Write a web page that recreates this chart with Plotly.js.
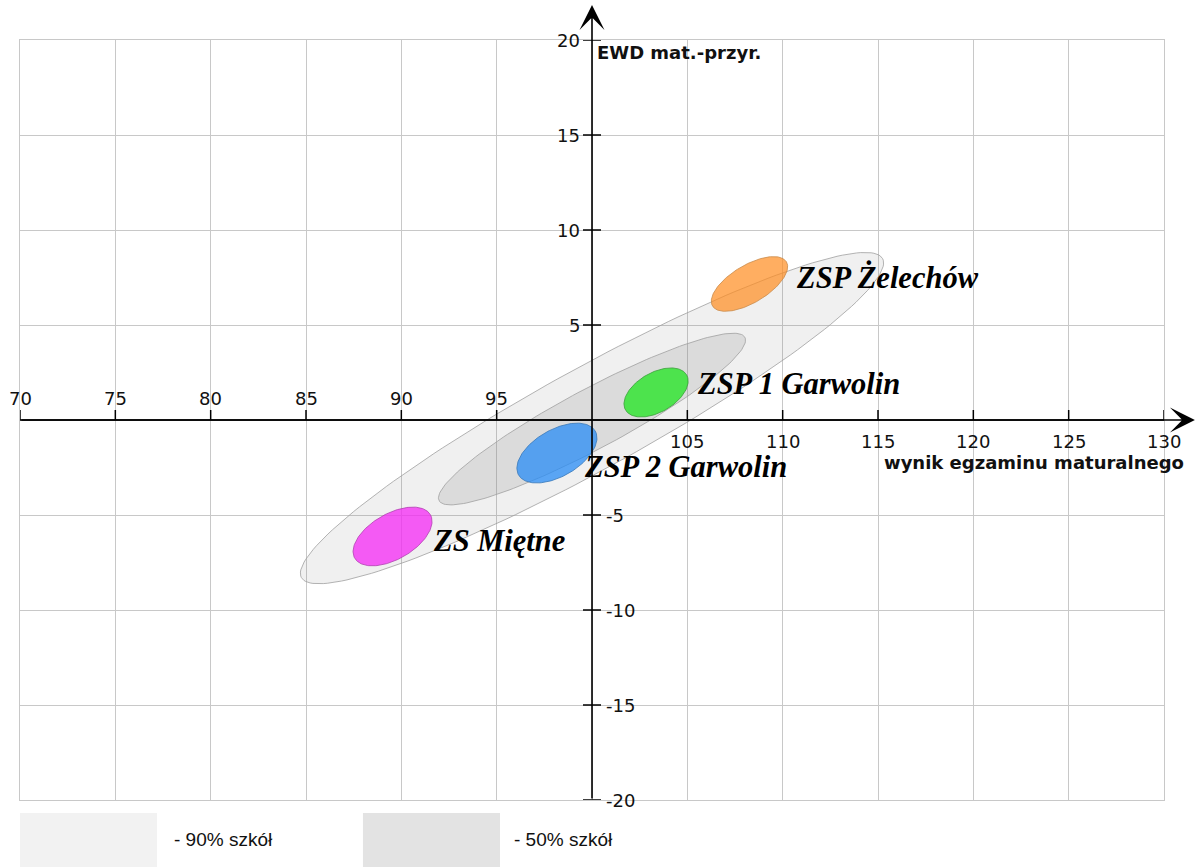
<!DOCTYPE html>
<html>
<head>
<meta charset="utf-8">
<script src="https://cdn.plot.ly/plotly-3.0.1.min.js"></script>
<style>html,body{margin:0;padding:0;background:#fff;}#chart{width:1202px;height:867px;}</style>
</head>
<body>
<div id="chart"></div>
<script>
// ---- data ----
const xTicks = [70, 75, 80, 85, 90, 95, 100, 105, 110, 115, 120, 125, 130];
const yTicks = [-20, -15, -10, -5, 0, 5, 10, 15, 20];
const xTitle = 'wynik egzaminu maturalnego';
const yTitle = 'EWD mat.-przyr.';

const schools = ['ZSP Żelechów', 'ZSP 1 Garwolin', 'ZSP 2 Garwolin', 'ZS Miętne'];
const schoolX = [108.26, 103.36, 98.16, 89.54];
const schoolY = [7.16, 1.45, -1.74, -6.13];
const schoolA = [2.26, 1.85, 2.32, 2.29];     // semi-major
const schoolB = [0.99, 1.04, 1.23, 1.20];     // semi-minor
const schoolAngle = [31, 30, 30, 30];         // degrees

const bands = ['90% szkół', '50% szkół'];
const bandX = [100, 100];
const bandY = [0.1, 0.05];
const bandA = [17.4, 9.1];
const bandB = [2.68, 1.57];
const bandAngle = [28.85, 28.2];

// ---- styles ----
const schoolFill = ['rgba(255,140,30,0.7)', 'rgba(30,230,30,0.75)', 'rgba(40,140,245,0.75)', 'rgba(245,40,245,0.75)'];
const schoolLine = ['#c98a4a', '#3aa03a', '#3a78b8', '#b040b0'];
const labelShift = [[45, 6], [39, 8.5], [25, -14], [38, -4.5]];
const bandFill = ['rgba(128,128,128,0.12)', 'rgba(128,128,128,0.18)'];
const legendColor = ['#f2f2f2', '#e3e3e3'];

function ellipse(cx, cy, a, b, angDeg) {
  const th = angDeg * Math.PI / 180, xs = [], ys = [];
  const n = 180;
  for (let i = 0; i <= n; i++) {
    const t = 2 * Math.PI * i / n;
    const u = a * Math.cos(t), v = b * Math.sin(t);
    xs.push(cx + u * Math.cos(th) - v * Math.sin(th));
    ys.push(cy + u * Math.sin(th) + v * Math.cos(th));
  }
  return {x: xs, y: ys};
}

const traces = [];
bands.forEach((name, i) => {
  const e = ellipse(bandX[i], bandY[i], bandA[i], bandB[i], bandAngle[i]);
  traces.push({x: e.x, y: e.y, mode: 'lines', fill: 'toself', fillcolor: bandFill[i],
    line: {color: '#a0a0a0', width: 0.8}, name: name, hoverinfo: 'skip'});
});
schools.forEach((name, i) => {
  const e = ellipse(schoolX[i], schoolY[i], schoolA[i], schoolB[i], schoolAngle[i]);
  traces.push({x: e.x, y: e.y, mode: 'lines', fill: 'toself', fillcolor: schoolFill[i],
    line: {color: schoolLine[i], width: 0.8}, name: name, hoverinfo: 'skip'});
});

const annotations = [];
const shapes = [];
const tickFont = {family: 'DejaVu Sans', size: 18, color: '#111'};

xTicks.forEach(v => {
  if (v !== 100) {
    shapes.push({type: 'line', xref: 'x', yref: 'y', x0: v, x1: v, ysizemode: 'pixel', yanchor: 0, y0: 0, y1: 10,
      line: {color: '#000', width: 1.5}, layer: 'above'});
    annotations.push({x: v, y: 0, xref: 'x', yref: 'y', text: String(v), showarrow: false, font: tickFont,
      xanchor: 'center', yanchor: v < 100 ? 'bottom' : 'top', yshift: v < 100 ? 9 : -9});
  }
});
yTicks.forEach(v => {
  if (v !== 0) {
    shapes.push({type: 'line', xref: 'x', yref: 'y', y0: v, y1: v, xsizemode: 'pixel', xanchor: 100, x0: -9, x1: 9,
      line: {color: '#000', width: 1.5}, layer: 'above'});
    annotations.push({x: 100, y: v, xref: 'x', yref: 'y', text: String(v), showarrow: false, font: tickFont,
      xanchor: v > 0 ? 'right' : 'left', yanchor: 'middle', xshift: v > 0 ? -10 : 12});
  }
});

// axis arrows
annotations.push({xref: 'paper', yref: 'y', x: 1.027, y: 0, ax: -1175, ay: 0, axref: 'pixel', ayref: 'pixel',
  text: '', showarrow: true, arrowhead: 3, arrowsize: 2.6, arrowwidth: 1.6, arrowcolor: '#000', standoff: 0});
annotations.push({xref: 'x', yref: 'paper', x: 100, y: 1.046, ax: 0, ay: 795, axref: 'pixel', ayref: 'pixel',
  text: '', showarrow: true, arrowhead: 3, arrowsize: 2.6, arrowwidth: 1.6, arrowcolor: '#000', standoff: 0});

// axis titles
annotations.push({xref: 'x', yref: 'y', x: 100, y: 20, xanchor: 'left', yanchor: 'middle', xshift: 3, yshift: -12,
  text: '<b>' + yTitle + '</b>', showarrow: false, font: {family: 'DejaVu Sans', size: 18, color: '#111'}});
annotations.push({xref: 'x', yref: 'y', x: 130, y: 0, xanchor: 'right', yanchor: 'middle', xshift: 22, yshift: -42,
  text: '<b>' + xTitle + '</b>', showarrow: false, font: {family: 'DejaVu Sans', size: 18, color: '#111'}});

// school labels
schools.forEach((name, i) => {
  annotations.push({xref: 'x', yref: 'y', x: schoolX[i], y: schoolY[i], xanchor: 'left', yanchor: 'middle',
    xshift: labelShift[i][0], yshift: labelShift[i][1], text: '<b><i>' + name + '</i></b>', showarrow: false,
    font: {family: 'Liberation Serif', size: 30.5, color: '#000'}});
});

// legend
const legX0 = [0, 0.2998], legX1 = [0.1198, 0.4196], legTx = [0.1329, 0.4301];
bands.forEach((name, i) => {
  shapes.push({type: 'rect', xref: 'paper', yref: 'paper', x0: legX0[i], x1: legX1[i], y0: -0.0171, y1: -0.0882,
    fillcolor: legendColor[i], line: {width: 0}, layer: 'below'});
  annotations.push({xref: 'paper', yref: 'paper', x: legTx[i], y: -0.0526, xanchor: 'left', yanchor: 'middle',
    text: '- ' + name, showarrow: false, font: {family: 'Liberation Sans', size: 19, color: '#111'}});
});

const axisCommon = {showgrid: true, gridcolor: '#c8c8c8', gridwidth: 1, zeroline: false, showticklabels: false,
  ticks: '', showline: true, linecolor: '#c8c8c8', linewidth: 1, mirror: true, fixedrange: true};

const layout = {
  width: 1202, height: 867,
  margin: {l: 20, r: 38, t: 40, b: 67, pad: 0},
  paper_bgcolor: '#fff', plot_bgcolor: '#fff',
  showlegend: false,
  xaxis: Object.assign({range: [70, 130], tick0: 70, dtick: 5}, axisCommon),
  yaxis: Object.assign({range: [-20, 20], tick0: -20, dtick: 5}, axisCommon),
  shapes: shapes.concat([
    {type: 'line', xref: 'paper', yref: 'y', x0: 0, x1: 1, y0: 0, y1: 0, line: {color: '#000', width: 1.6}, layer: 'above'}
  ]),
  annotations: annotations
};

Plotly.newPlot('chart', traces, layout, {displayModeBar: false, staticPlot: true});
</script>
</body>
</html>
